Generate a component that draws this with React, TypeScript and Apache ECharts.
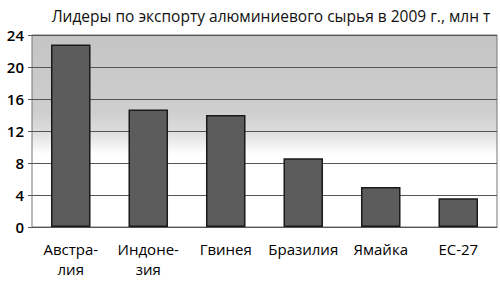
import React, { useEffect, useRef } from "react";
import * as echarts from "echarts";

const title = "Лидеры по экспорту алюминиевого сырья в 2009 г., млн т";
const categories = ["Австра-\nлия", "Индоне-\nзия", "Гвинея", "Бразилия", "Ямайка", "ЕС-27"];
const values = [22.8, 14.7, 14.0, 8.6, 5.0, 3.6];
const yTicks = { min: 0, max: 24, interval: 4 };

export default function App() {
  const ref = useRef<HTMLDivElement>(null);
  useEffect(() => {
    if (!ref.current) return;
    const chart = echarts.init(ref.current, null, { renderer: "svg" });
    chart.setOption({
      animation: false,
      backgroundColor: "#ffffff",
      title: {
        text: title,
        left: 266,
        textAlign: "center",
        top: 3,
        textStyle: { fontFamily: "Open Sans", fontSize: 15.5, fontWeight: "normal", color: "#111" },
      },
      grid: {
        left: 32,
        right: 3,
        top: 35,
        bottom: 58,
        show: true,
        borderColor: "#777",
        borderWidth: 1,
        backgroundColor: new echarts.graphic.LinearGradient(0, 0, 0, 1, [
          { offset: 0, color: "#c4c4c4" },
          { offset: 0.4, color: "#cecece" },
          { offset: 0.5, color: "#dcdcdc" },
          { offset: 0.62, color: "#ffffff" },
          { offset: 1, color: "#ffffff" },
        ]),
      },
      xAxis: {
        type: "category",
        data: categories,
        axisLine: { show: true, lineStyle: { color: "#555", width: 1 } },
        axisTick: { show: false },
        axisLabel: {
          margin: 12,
          fontFamily: "Open Sans",
          fontSize: 15,
          lineHeight: 20,
          color: "#000",
          interval: 0,
        },
      },
      yAxis: {
        type: "value",
        min: yTicks.min,
        max: yTicks.max,
        interval: yTicks.interval,
        axisLine: { show: false },
        axisTick: { show: true, length: 4, lineStyle: { color: "#555" } },
        axisLabel: {
          margin: 8,
          fontFamily: "Open Sans",
          fontSize: 15,
          fontWeight: 600,
          color: "#000",
        },
        splitLine: { show: true, lineStyle: { color: "#555", width: 1 } },
      },
      series: [
        {
          type: "bar",
          data: values,
          barWidth: "51%",
          itemStyle: { color: "#5c5c5c", borderColor: "#1a1a1a", borderWidth: 1.5 },
        },
      ],
    });
    return () => chart.dispose();
  }, []);
  return <div ref={ref} style={{ width: 500, height: 285, position: "absolute", left: 0, top: 0 }} />;
}
